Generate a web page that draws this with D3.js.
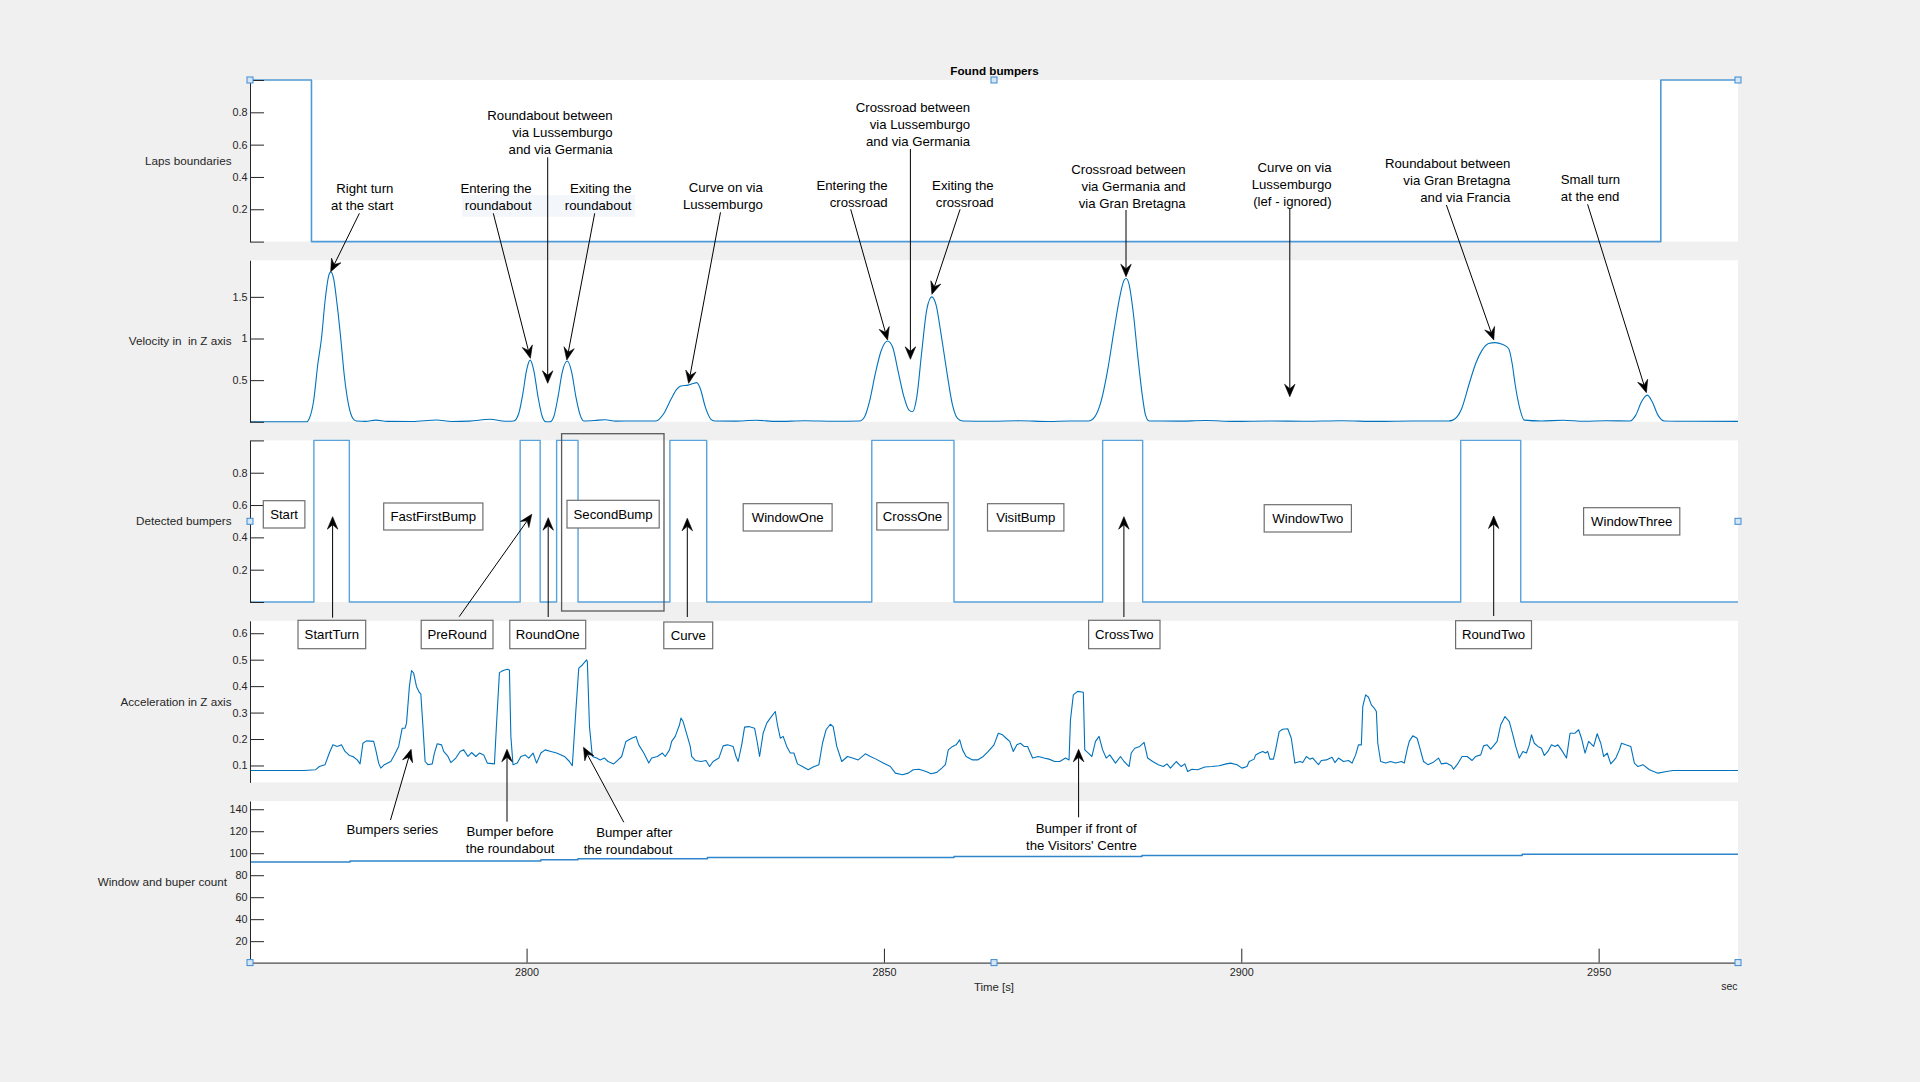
<!DOCTYPE html>
<html><head><meta charset="utf-8">
<script src="https://cdn.jsdelivr.net/npm/d3@7"></script>
<style>
html,body{margin:0;padding:0;background:#f0f0f0;}
svg{display:block;font-family:"Liberation Sans",Arial,Helvetica,sans-serif;}
</style></head><body>
<svg id="chart" width="1920" height="1082"></svg>
<script>
// ---------------- DATA ----------------
const timeDomain = [2761.3, 2969.5];
const xTicks = [2800, 2850, 2900, 2950];

// Laps boundaries (step after)
const lapTimes  = [2761.3, 2769.9, 2958.7];
const lapValues = [1, 0, 1];

// Detected bumpers (step after)
const bumpTimes  = [2761.3, 2770.24, 2775.2, 2799.1, 2801.9, 2804.2, 2807.2, 2820.05, 2825.2, 2848.3, 2859.8, 2880.6, 2886.2, 2930.7, 2939.1];
const bumpValues = [0, 1, 0, 1, 0, 1, 0, 1, 0, 1, 0, 1, 0, 1, 0];

// Window and bumper count (step after)
const countTimes  = [2761.3, 2775.3, 2802.0, 2807.2, 2825.3, 2859.8, 2886.1, 2939.3];
const countValues = [92, 93, 94, 95, 96, 97, 98, 99];

// Velocity in Z axis [time, value]
const velocity = [
[2761.3,0],[2769.2,0],[2769.6,0.04],[2770.2,0.25],[2770.8,0.7],[2771.3,1.0],[2771.8,1.45],[2772.3,1.75],[2772.6,1.8],[2773.0,1.72],[2773.5,1.4],[2774.0,1.0],[2774.5,0.55],[2775.1,0.2],[2775.7,0.04],[2776.2,0.01],[2777.5,0.005],[2778.9,0.02],[2780.5,0.005],[2784,0.003],[2787.4,0.022],[2789.5,0.004],[2792,0.008],[2794.9,0.03],[2797.0,0.006],[2798.2,0.01],[2798.9,0.1],[2799.5,0.35],[2800.0,0.62],[2800.5,0.74],[2801.0,0.62],[2801.6,0.3],[2802.2,0.06],[2802.7,0],[2803.3,0],[2803.8,0.06],[2804.4,0.3],[2805.0,0.6],[2805.7,0.73],[2806.3,0.6],[2806.9,0.3],[2807.5,0.08],[2808.0,0.01],[2809.5,0.015],[2811,0.025],[2812.5,0.008],[2815,0.01],[2818.1,0.01],[2819.2,0.1],[2820.2,0.27],[2821.0,0.39],[2821.6,0.43],[2822.6,0.44],[2823.3,0.46],[2823.8,0.47],[2824.3,0.4],[2825.0,0.18],[2825.8,0.03],[2826.3,0.01],[2829,0.008],[2832.1,0.018],[2835,0.005],[2839,0.012],[2843,0.006],[2846.6,0.01],[2847.3,0.06],[2848.0,0.25],[2848.8,0.58],[2849.6,0.85],[2850.5,0.97],[2851.2,0.9],[2852.0,0.6],[2852.8,0.3],[2853.5,0.14],[2854.0,0.12],[2854.6,0.3],[2855.3,0.85],[2856.0,1.35],[2856.7,1.5],[2857.3,1.4],[2858.0,1.05],[2858.8,0.6],[2859.6,0.2],[2860.3,0.04],[2861.0,0.01],[2865,0.006],[2869,0.012],[2873,0.004],[2876,0.01],[2878.6,0.01],[2879.5,0.06],[2880.4,0.25],[2881.3,0.62],[2882.2,1.1],[2883.0,1.5],[2883.6,1.7],[2883.9,1.72],[2884.3,1.65],[2884.9,1.3],[2885.5,0.8],[2886.1,0.35],[2886.6,0.08],[2887.1,0.01],[2891,0.008],[2895,0.015],[2899,0.005],[2904,0.01],[2909,0.006],[2914,0.012],[2919,0.005],[2924,0.01],[2929.0,0.01],[2929.6,0.02],[2930.8,0.15],[2931.9,0.46],[2932.8,0.7],[2933.7,0.86],[2934.6,0.94],[2935.5,0.95],[2936.5,0.93],[2937.4,0.88],[2937.9,0.7],[2938.3,0.46],[2939.0,0.15],[2939.6,0.02],[2942,0.01],[2945,0.018],[2948,0.006],[2951,0.012],[2954.4,0.01],[2955.2,0.08],[2956.0,0.24],[2956.8,0.32],[2957.5,0.24],[2958.3,0.08],[2959.2,0.01],[2963,0.006],[2969.5,0.005]
];

// Acceleration in Z axis [time, value]
const acceleration = [
[2761.3,0.081],[2768.8,0.081],[2770.5,0.084],[2771.0,0.096],[2771.8,0.103],[2772.4,0.147],[2772.9,0.178],[2773.5,0.172],[2774.1,0.178],[2774.6,0.153],[2775.2,0.138],[2775.7,0.134],[2776.3,0.121],[2776.7,0.106],[2777.1,0.184],[2777.6,0.193],[2778.6,0.191],[2778.9,0.159],[2779.3,0.109],[2779.6,0.090],[2780.1,0.103],[2781.0,0.115],[2781.5,0.140],[2782.1,0.172],[2782.6,0.241],[2783.0,0.241],[2783.2,0.260],[2783.6,0.398],[2783.9,0.459],[2784.2,0.449],[2784.6,0.398],[2785.0,0.376],[2785.2,0.371],[2785.5,0.247],[2785.8,0.115],[2786.2,0.103],[2786.8,0.106],[2787.1,0.147],[2787.5,0.182],[2788.1,0.178],[2788.4,0.153],[2789.0,0.134],[2789.4,0.111],[2790.1,0.128],[2790.7,0.153],[2791.2,0.159],[2791.8,0.134],[2792.3,0.149],[2792.9,0.134],[2793.4,0.147],[2794.0,0.140],[2794.5,0.109],[2795.5,0.106],[2795.8,0.260],[2796.2,0.451],[2796.7,0.459],[2797.3,0.464],[2797.6,0.461],[2797.8,0.210],[2798.1,0.103],[2798.7,0.109],[2799.2,0.134],[2799.8,0.140],[2800.3,0.128],[2800.9,0.147],[2801.4,0.109],[2802.0,0.147],[2802.6,0.159],[2803.4,0.153],[2804.2,0.147],[2805.3,0.134],[2806.0,0.115],[2806.4,0.099],[2806.9,0.310],[2807.3,0.468],[2807.8,0.480],[2808.4,0.499],[2808.5,0.493],[2808.8,0.247],[2809.2,0.134],[2809.8,0.128],[2810.3,0.121],[2810.9,0.128],[2811.4,0.115],[2812.2,0.106],[2812.8,0.121],[2813.3,0.134],[2813.9,0.191],[2814.7,0.203],[2815.3,0.210],[2815.7,0.178],[2816.4,0.147],[2817.1,0.109],[2817.5,0.128],[2818.3,0.134],[2819.0,0.147],[2819.4,0.134],[2820.0,0.159],[2820.3,0.191],[2820.8,0.210],[2821.4,0.254],[2821.6,0.279],[2821.9,0.266],[2822.5,0.210],
[2822.9,0.172],[2823.1,0.134],[2823.6,0.119],[2824.4,0.115],[2825.1,0.119],[2825.6,0.096],[2826.1,0.115],[2826.9,0.128],[2827.5,0.174],[2828.1,0.178],[2828.9,0.172],[2829.3,0.134],[2829.6,0.115],[2830.1,0.178],[2830.5,0.245],[2831.1,0.247],[2831.9,0.241],[2832.3,0.184],[2832.6,0.134],[2833.1,0.222],[2833.6,0.260],[2834.1,0.279],[2834.8,0.304],[2835.1,0.254],[2835.5,0.203],[2835.9,0.210],[2836.4,0.172],[2836.9,0.147],[2837.4,0.147],[2837.9,0.106],[2838.6,0.096],[2839.4,0.084],[2840.1,0.094],[2840.9,0.103],[2841.4,0.184],[2841.9,0.235],[2842.5,0.256],[2842.9,0.247],[2843.4,0.172],[2844.1,0.115],[2844.9,0.134],[2845.6,0.128],[2846.4,0.121],[2847.4,0.144],[2848.1,0.134],[2848.9,0.124],[2849.9,0.109],[2850.9,0.096],[2851.6,0.071],[2852.6,0.065],[2853.4,0.071],[2854.1,0.084],[2854.9,0.086],[2855.9,0.077],[2856.6,0.069],[2857.4,0.074],[2858.1,0.090],[2858.6,0.103],[2859.0,0.159],[2859.6,0.172],[2860.1,0.178],[2860.6,0.197],[2861.0,0.159],[2861.5,0.134],[2862.4,0.121],[2863.1,0.121],[2863.9,0.134],[2864.6,0.153],[2865.4,0.178],[2866.0,0.222],[2866.6,0.216],[2867.1,0.203],[2867.6,0.191],[2868.1,0.153],[2868.6,0.178],[2869.1,0.184],[2869.6,0.172],[2870.1,0.172],[2870.8,0.128],[2871.6,0.134],[2872.4,0.128],[2873.1,0.124],[2873.9,0.115],[2874.6,0.115],[2875.4,0.128],[2875.9,0.121],[2876.1,0.273],[2876.5,0.367],[2877.1,0.380],[2877.9,0.377],[2878.1,0.159],[2878.6,0.147],[2879.1,0.134],[2879.6,0.191],[2880.1,0.210],[2880.6,0.159],[2881.1,0.128],[2881.6,0.140],[2882.4,0.109],[2883.1,0.134],[2883.6,0.115],[2884.3,0.096],[2884.6,0.147],[2885.1,0.165],[2885.8,0.172],[2886.4,0.187],[2886.9,0.128],[2887.6,0.115],[2888.4,0.103],[2889.1,0.096],[2889.6,0.106],[2890.1,0.090],[2890.9,0.115],[2891.6,0.096],[2892.1,0.106],[2892.5,0.077],[2893.1,0.086],[2893.9,0.084],[2894.9,0.094],[2895.9,0.096],[2896.9,0.099],[2897.9,0.106],
[2898.5,0.109],[2899.4,0.103],[2900.1,0.090],[2900.8,0.096],[2901.1,0.115],[2901.8,0.124],[2902.0,0.140],[2902.5,0.147],[2903.0,0.153],[2903.4,0.147],[2903.7,0.153],[2904.0,0.124],[2904.5,0.124],[2904.8,0.159],[2905.3,0.228],[2905.8,0.237],[2906.5,0.239],[2907.0,0.203],[2907.5,0.109],[2908.2,0.115],[2908.6,0.111],[2909.1,0.134],[2909.6,0.124],[2910.0,0.128],[2910.8,0.103],[2911.2,0.119],[2911.9,0.121],[2912.7,0.131],[2913.1,0.111],[2913.6,0.128],[2914.3,0.115],[2915.0,0.119],[2915.5,0.109],[2916.0,0.140],[2916.4,0.178],[2916.8,0.178],[2917.0,0.323],[2917.4,0.367],[2917.8,0.358],[2918.2,0.329],[2918.6,0.317],[2918.9,0.304],[2919.1,0.184],[2919.5,0.115],[2920.2,0.109],[2920.9,0.115],[2921.6,0.109],[2922.4,0.115],[2922.8,0.109],[2923.2,0.159],[2923.5,0.191],[2924.0,0.212],[2924.6,0.203],[2925.0,0.165],[2925.5,0.115],[2926.1,0.103],[2926.8,0.111],[2927.6,0.128],[2928.0,0.106],[2928.7,0.109],[2929.4,0.099],[2929.7,0.086],[2930.2,0.103],[2930.9,0.134],[2931.6,0.134],[2932.3,0.119],[2932.8,0.134],[2933.5,0.140],[2933.9,0.174],[2934.4,0.178],[2934.9,0.162],[2935.4,0.178],[2935.8,0.191],[2936.3,0.254],[2936.9,0.285],[2937.5,0.266],[2938.0,0.216],[2938.4,0.172],[2938.9,0.128],[2939.4,0.153],[2939.9,0.147],[2940.3,0.178],[2940.6,0.216],[2941.0,0.184],[2941.5,0.172],[2942.0,0.165],[2942.4,0.138],[2942.9,0.153],[2943.4,0.178],[2943.9,0.172],[2944.3,0.178],[2944.8,0.159],[2945.5,0.128],[2946.0,0.222],[2946.7,0.222],[2947.2,0.235],[2947.6,0.203],[2948.1,0.147],[2948.6,0.191],[2949.3,0.172],[2949.8,0.220],[2950.3,0.184],[2950.7,0.134],[2951.2,0.147],[2951.7,0.106],[2952.4,0.128],[2952.9,0.159],[2953.2,0.184],[2953.8,0.178],[2954.5,0.172],[2955.0,0.109],[2955.5,0.096],[2956.2,0.103],[2957.1,0.084],[2958.3,0.071],[2959.5,0.077],[2960.4,0.081],[2964.7,0.081],[2969.5,0.081]
];

// Panel definitions (labels, domains, ticks)
const panelLabels = ["Laps boundaries", "Velocity in  in Z axis", "Detected bumpers", "Acceleration in Z axis", "Window and buper count"];
const panelDomains = [[0,1],[0,1.94],[0,1],[0.036,0.647],[0.5,147.5]];
const panelTicks = [[0,0.2,0.4,0.6,0.8,1],[0,0.5,1,1.5],[0,0.2,0.4,0.6,0.8,1],[0.1,0.2,0.3,0.4,0.5,0.6],[20,40,60,80,100,120,140]];
const panelTickLabels = [[0.2,0.4,0.6,0.8],[0.5,1,1.5],[0.2,0.4,0.6,0.8],[0.1,0.2,0.3,0.4,0.5,0.6],[20,40,60,80,100,120,140]];

// Annotations (figure layout)
const textArrows = [
 {lines:["Right turn","at the start"], x:393.4, y:188.7, anchor:"end", arrow:[359.4,213.3,330.7,271.7]},
 {lines:["Roundabout between","via Lussemburgo","and via Germania"], x:612.7, y:115.7, anchor:"end", arrow:[547.7,157.3,547.7,383.3]},
 {lines:["Entering the","roundabout"], x:531.6, y:188.7, anchor:"end", arrow:[493.3,213.3,530.4,358.3]},
 {lines:["Exiting the","roundabout"], x:631.5, y:188.7, anchor:"end", arrow:[594.7,213.3,566.8,360]},
 {lines:["Curve on via","Lussemburgo"], x:762.8, y:187.7, anchor:"end", arrow:[720.5,212.3,688.6,383.3]},
 {lines:["Crossroad between","via Lussemburgo","and via Germania"], x:970.1, y:107.7, anchor:"end", arrow:[910.4,149,910.4,359.3]},
 {lines:["Entering the","crossroad"], x:887.6, y:185, anchor:"end", arrow:[850.7,209.3,887.6,340]},
 {lines:["Exiting the","crossroad"], x:993.7, y:185, anchor:"end", arrow:[960.1,209.3,931.9,294.3]},
 {lines:["Crossroad between","via Germania and","via Gran Bretagna"], x:1185.7, y:169, anchor:"end", arrow:[1126,210,1126,276.7]},
 {lines:["Curve on via","Lussemburgo","(lef - ignored)"], x:1331.6, y:167.7, anchor:"end", arrow:[1289.8,208.3,1289.8,396.7]},
 {lines:["Roundabout between","via Gran Bretagna","and via Francia"], x:1510.4, y:163.7, anchor:"end", arrow:[1446.4,205,1493.8,340]},
 {lines:["Small turn","at the end"], x:1560.8, y:179.7, anchor:"start", arrow:[1587.6,204.3,1646.4,392.7]},
 {lines:["Bumpers series"], x:392.3, y:829.5, anchor:"middle", arrow:[390.5,820,411.1,749.3]},
 {lines:["Bumper before","the roundabout"], x:510.1, y:831.7, anchor:"middle", arrow:[507,821.7,507,749.3]},
 {lines:["Bumper after","the roundabout"], x:672.4, y:832.7, anchor:"end", arrow:[623.8,822.3,583.5,747.3]},
 {lines:["Bumper if front of","the Visitors' Centre"], x:1136.8, y:828, anchor:"end", arrow:[1078.6,817.3,1078.6,749.3]}
];
const labelBoxes = [
 {text:"Start", x0:263.3,y0:500.7,x1:304.9,y1:528},
 {text:"FastFirstBump", x0:383.7,y0:503,x1:482.9,y1:530},
 {text:"SecondBump", x0:567,y0:500.3,x1:659.2,y1:528},
 {text:"WindowOne", x0:743.2,y0:503.7,x1:832.1,y1:531},
 {text:"CrossOne", x0:876.8,y0:502.7,x1:948.2,y1:530},
 {text:"VisitBump", x0:987.5,y0:503.7,x1:1063.9,y1:531},
 {text:"WindowTwo", x0:1264.2,y0:504.7,x1:1351.4,y1:532},
 {text:"WindowThree", x0:1583.6,y0:507.7,x1:1679.8,y1:535},
 {text:"StartTurn", x0:298,y0:620.3,x1:365.7,y1:648.7},
 {text:"PreRound", x0:421.2,y0:620.3,x1:493,y1:648.7},
 {text:"RoundOne", x0:509.8,y0:620.3,x1:585.7,y1:648.7},
 {text:"Curve", x0:663.8,y0:622,x1:712.7,y1:648.7},
 {text:"CrossTwo", x0:1088.6,y0:620.3,x1:1160,y1:648.7},
 {text:"RoundTwo", x0:1455.6,y0:620.7,x1:1531.5,y1:648.7}
];
const boxArrows = [[332.6,617.7,332.6,516.7],[459.2,616.7,531.8,514.3],[548.2,617,548.2,517.7],[687.3,617,687.3,518.3],[1123.9,617,1123.9,516.7],[1493.7,616,1493.7,516]];

// ---------------- LAYOUT ----------------
const svg = d3.select("#chart");
const L = 250, R = 1738;
const panelTops = [80, 260.2, 440.4, 620.8, 801];
const panelH = 161.6;
const x = d3.scaleLinear().domain(timeDomain).range([L, R]);
const fontFam = '"Liberation Sans",Arial,Helvetica,sans-serif';
const axisColor = "#262626";

svg.append("rect").attr("width",1920).attr("height",1082).attr("fill","#f0f0f0");

// title
svg.append("text").attr("x",994.5).attr("y",75).attr("text-anchor","middle")
  .attr("font-size",11.7).attr("font-weight","bold").attr("fill","#000").text("Found bumpers");

const yScales = panelTops.map((t,i)=> d3.scaleLinear().domain(panelDomains[i]).range([t+panelH, t]));

panelTops.forEach((t,i)=>{
  svg.append("rect").attr("x",L).attr("y",t).attr("width",R-L).attr("height",panelH).attr("fill","#fff");
});

// faint hidden text box behind roundabout labels
svg.append("rect").attr("x",462).attr("y",195).attr("width",173).attr("height",21.7).attr("fill","#f3f7fb");

// data lines
const stepPts = (ts, vs) => { const p = ts.map((t,i)=>[t, vs[i]]); p.push([timeDomain[1], vs[vs.length-1]]); return p; };
function drawLine(i, pts, curve, color, width){
  const y = yScales[i];
  const gen = d3.line().x(d=>x(d[0])).y(d=>y(d[1])).curve(curve);
  svg.append("path").attr("d", gen(pts)).attr("fill","none").attr("stroke",color).attr("stroke-width",width).attr("stroke-linejoin","round");
}
drawLine(0, stepPts(lapTimes, lapValues), d3.curveStepAfter, "#4f9ad6", 1.6);
drawLine(1, velocity, d3.curveMonotoneX, "#0072BD", 1.1);
drawLine(2, stepPts(bumpTimes, bumpValues), d3.curveStepAfter, "#5aa2da", 1.4);
drawLine(3, acceleration, d3.curveLinear, "#0072BD", 1.1);
drawLine(4, stepPts(countTimes, countValues), d3.curveStepAfter, "#2f86cc", 1.5);

// y axes
panelTops.forEach((t,i)=>{
  const ax = d3.axisLeft(yScales[i]).tickValues(panelTicks[i]).tickSizeInner(-14).tickSizeOuter(0).tickPadding(2.5)
     .tickFormat(d => panelTickLabels[i].includes(d) ? String(d) : "");
  const g = svg.append("g").attr("transform",`translate(${L},0)`).call(ax);
  g.selectAll("path,line").attr("stroke",axisColor);
  g.selectAll("text").attr("fill",axisColor).attr("font-size",10.8).attr("font-family",fontFam);
  g.attr("font-family",fontFam);
  svg.append("text").attr("x", i===4 ? 227 : 231.5).attr("y", t+panelH/2 + 4)
    .attr("text-anchor","end").attr("font-size",11.7).attr("fill",axisColor)
    .style("white-space","pre").text(panelLabels[i]);
});

// x axis (bottom panel)
const xb = panelTops[4]+panelH;
const xAx = d3.axisBottom(x).tickValues(xTicks).tickSizeInner(-14).tickSizeOuter(0).tickPadding(6).tickFormat(d3.format("d"));
const gx = svg.append("g").attr("transform",`translate(0,${xb})`).call(xAx);
gx.selectAll("path,line").attr("stroke",axisColor);
gx.selectAll("text").attr("fill",axisColor).attr("font-size",10.8).attr("font-family",fontFam);
svg.append("text").attr("x",994).attr("y",990.5).attr("text-anchor","middle").attr("font-size",11.4).attr("fill",axisColor).text("Time [s]");
svg.append("text").attr("x",1737.5).attr("y",990).attr("text-anchor","end").attr("font-size",10.5).attr("fill",axisColor).text("sec");

// arrows
function arrow(x1,y1,x2,y2){
  const a = Math.atan2(y2-y1, x2-x1), c=Math.cos(a), s=Math.sin(a);
  const HL=12.5, HW=10.5, N=8;
  svg.append("line").attr("x1",x1).attr("y1",y1).attr("x2",x2-c*N).attr("y2",y2-s*N)
    .attr("stroke","#000").attr("stroke-width",1);
  const pts = [[x2,y2],[x2-HL*c+HW/2*s, y2-HL*s-HW/2*c],[x2-N*c, y2-N*s],[x2-HL*c-HW/2*s, y2-HL*s+HW/2*c]];
  svg.append("polygon").attr("points", pts.map(p=>p.join(",")).join(" ")).attr("fill","#000").attr("stroke","#000").attr("stroke-width",0.6);
}

// label boxes
svg.append("rect").attr("x",561.6).attr("y",433.7).attr("width",102.4).attr("height",177.3)
  .attr("fill","none").attr("stroke","#5a5a5a").attr("stroke-width",1.3);
labelBoxes.forEach(b=>{
  svg.append("rect").attr("x",b.x0).attr("y",b.y0).attr("width",b.x1-b.x0).attr("height",b.y1-b.y0)
    .attr("fill","#fff").attr("stroke","#6e6e6e").attr("stroke-width",1.2);
  svg.append("text").attr("x",(b.x0+b.x1)/2).attr("y",(b.y0+b.y1)/2+4.6).attr("text-anchor","middle")
    .attr("font-size",13.2).attr("fill","#000").text(b.text);
});
boxArrows.forEach(a=>arrow(...a));

// text arrows
textArrows.forEach(n=>{
  const t = svg.append("text").attr("text-anchor",n.anchor).attr("font-size",13.2).attr("fill","#000");
  n.lines.forEach((ln,k)=>{
    t.append("tspan").attr("x",n.x).attr("y",n.y + k*17 + 4.6).text(ln);
  });
  arrow(...n.arrow);
});

// selection handles
const handles = [[L,80],[994,80],[R,80],[L,521.3],[R,521.3],[L,xb],[994,xb],[R,xb]];
handles.forEach(h=>{
  svg.append("rect").attr("x",h[0]-3).attr("y",h[1]-3).attr("width",6).attr("height",6)
    .attr("fill","#d4e6f7").attr("stroke","#3f8ad0").attr("stroke-width",1);
});
</script>
</body></html>
